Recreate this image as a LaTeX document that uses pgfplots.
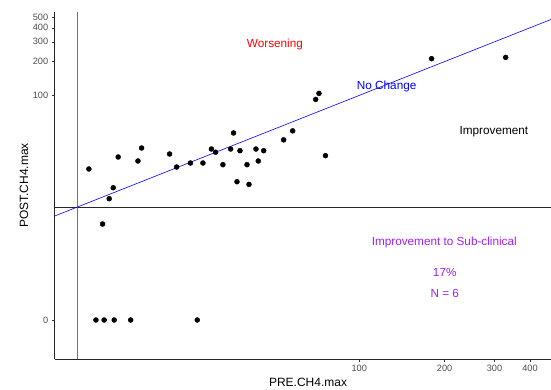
\documentclass[border=0pt]{standalone}
\usepackage{fontspec}
\setmainfont{Liberation Sans}
\usepackage{pgfplots}
\pgfplotsset{compat=1.18}
\definecolor{rpurple}{HTML}{A020F0}
\definecolor{tickgrey}{HTML}{4D4D4D}
\pgfplotsset{
  psl x/.style={x coord trafo/.code={\begingroup\pgfkeys{/pgf/fpu=true,/pgf/fpu/output format=fixed}\pgfmathparse{ln(##1/2+sqrt((##1/2)^2+1))/ln(10)}\pgfmathsmuggle\pgfmathresult\endgroup}},
  psl y/.style={y coord trafo/.code={\begingroup\pgfkeys{/pgf/fpu=true,/pgf/fpu/output format=fixed}\pgfmathparse{ln(##1/2+sqrt((##1/2)^2+1))/ln(10)}\pgfmathsmuggle\pgfmathresult\endgroup}},
}
\begin{document}
\begin{tikzpicture}
\begin{axis}[
  at={(0,0)}, anchor=south west,
  scale only axis, width=496.5pt, height=347pt,
  psl x, psl y,
  xmin=8.30, xmax=474.6, ymin=-1.775, ymax=553,
  axis x line=bottom, axis y line=left,
  axis line style={-, black!85, line width=0.6pt},
  tick align=outside, major tick length=2.8pt,
  tick style={black!80, line width=0.5pt},
  xtick={100,200,300,400}, xticklabels={100,200,300,400},
  ytick={0,100,200,300,400,500}, yticklabels={0,100,200,300,400,500},
  /pgf/number format/assume math mode=true,
  ticklabel style={font=\fontsize{9.2}{10}\selectfont, text=tickgrey},
  xlabel={PRE.CH4.max}, ylabel={POST.CH4.max},
  label style={font=\fontsize{12}{14}\selectfont},
  xlabel style={at={(axis description cs:0.5106,-0.0674)}, anchor=center},
  ylabel style={at={(axis description cs:-0.0614,0.5)}, anchor=center},
  clip=true,
]
% threshold lines
\addplot[black!85, line width=0.6pt] coordinates {(8.30,10) (474.6,10)};
\addplot[black!55, line width=0.7pt] coordinates {(10,-1.775) (10,553)};
% no change line
\addplot[blue, line width=0.6pt] coordinates {(1,1) (600,600)};
% data
\addplot[only marks, mark=*, mark size=2.5pt, black] coordinates {
(11.04,22.07) (12.36,7.02) (13.05,11.95) (13.49,15.0) (14.05,28.25)
(16.52,26.02) (17.02,33.98) (21.39,30.05) (22.65,22.99) (25.35,24.96)
(28.07,24.96) (30.08,33.29) (31.12,31.17) (33.02,24.11) (35.16,33.29)
(36.00,46.25) (37.03,16.98) (37.94,32.15) (40.17,24.11) (40.82,16.06)
(43.21,33.29) (44.03,26.02) (46.0,32.15) (54.1,40.15) (58.23,48.3)
(70.2,92.1) (72.1,104.2) (76.0,29.04) (180.0,212.3) (328.5,218.0)
(11.7,0) (12.52,0) (13.6,0) (15.56,0) (26.8,0)
};
\node[text=red, font=\fontsize{11.75}{14}\selectfont] at (rel axis cs:0.444,0.906) {Worsening};
\node[text=blue, font=\fontsize{11.75}{14}\selectfont] at (rel axis cs:0.669,0.784) {No Change};
\node[text=black, font=\fontsize{11.75}{14}\selectfont] at (rel axis cs:0.885,0.655) {Improvement};
\node[text=rpurple, font=\fontsize{11.75}{14}\selectfont] at (rel axis cs:0.785,0.336) {Improvement to Sub-clinical};
\node[text=rpurple, font=\fontsize{11.75}{14}\selectfont] at (rel axis cs:0.786,0.2505) {17\%};
\node[text=rpurple, font=\fontsize{11.75}{14}\selectfont] at (rel axis cs:0.786,0.190) {N = 6};
\end{axis}
\pgfresetboundingbox
\path[use as bounding box] (-54.5pt,-31pt) rectangle (496.5pt,359pt);
\end{tikzpicture}
\end{document}
